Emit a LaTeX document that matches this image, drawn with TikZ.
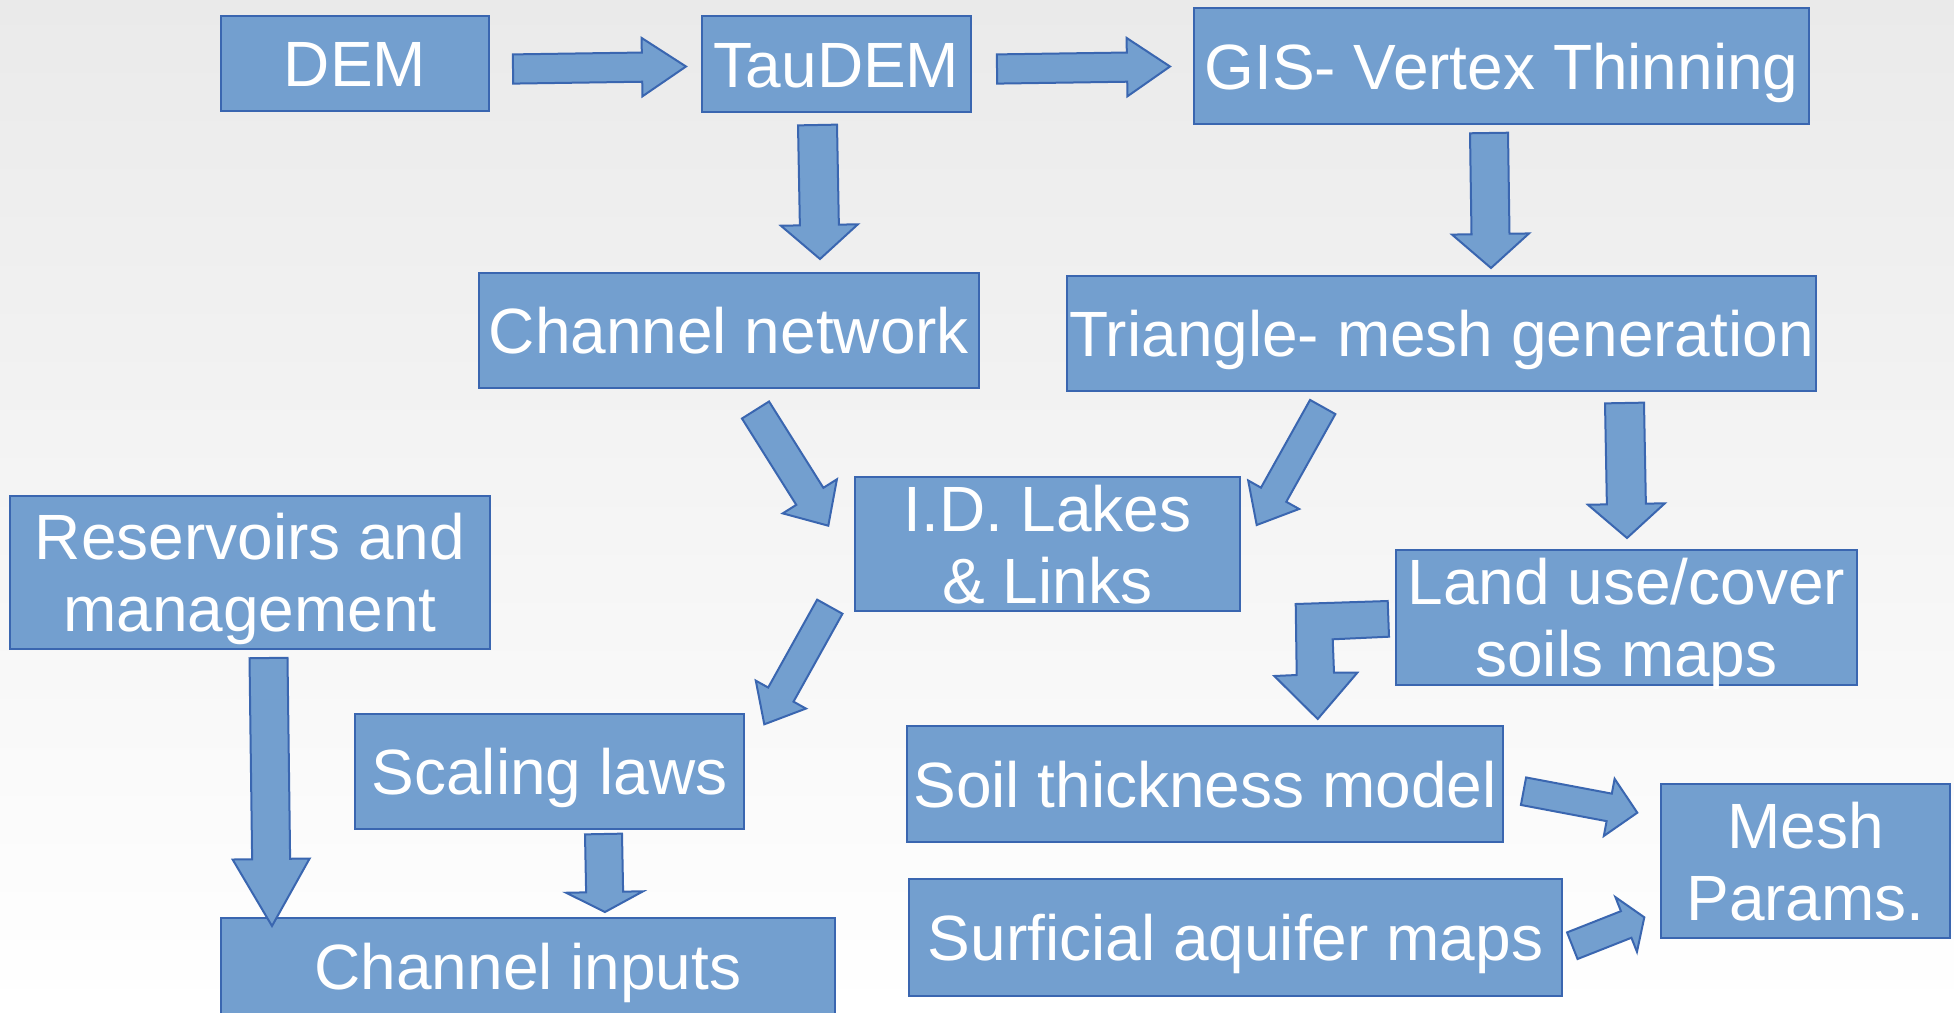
\documentclass[tikz,border=0pt]{standalone}
\usepackage{fontspec}
\setmainfont{Liberation Sans}
\usetikzlibrary{calc}
\definecolor{boxfill}{RGB}{115,159,207}
\definecolor{boxline}{RGB}{58,102,176}
\definecolor{bgtop}{RGB}{234,234,234}
\tikzset{
  box/.style={draw=boxline, fill=boxfill, line width=1pt, text=white, inner sep=0pt,
    font=\fontsize{32}{36}\selectfont, align=center},
  oneline/.style={text height=23pt, text depth=0pt},
  twoline/.style={text height=59pt, text depth=0pt},
  arr/.style={draw=boxline, fill=boxfill, line width=1pt, line join=miter}
}
\newcommand\blockarr[5]{%
  \coordinate (hb) at ($(#2)!#5!(#1)$);
  \draw[arr] ($(#1)!#3!90:(#2)$) -- ($(hb)!#3!90:(#2)$) -- ($(hb)!#4!90:(#2)$) -- (#2)
    -- ($(hb)!#4!-90:(#2)$) -- ($(hb)!#3!-90:(#2)$) -- ($(#1)!#3!-90:(#2)$) -- cycle;}
\begin{document}
\begin{tikzpicture}[x=0.5pt, y=-0.5pt]
\useasboundingbox (0,0) rectangle (1954,1012);
\clip (0,0) rectangle (1954,1012);
\shade[top color=bgtop, bottom color=white] (0,0) rectangle (1954,1012);

% boxes
\node[box, oneline, minimum width=134pt, minimum height=47.5pt] (dem) at (355,63.5) {DEM};
\node[box, oneline, minimum width=134.5pt, minimum height=48pt] (tau) at (836.5,64) {TauDEM};
\node[box, oneline, minimum width=307.5pt, minimum height=58pt] (gis) at (1501.5,66) {GIS- Vertex Thinning};
\node[box, oneline, minimum width=250pt, minimum height=57.5pt] (chn) at (729,330.5) {Channel network};
\node[box, oneline, minimum width=374.5pt, minimum height=57.5pt] (tri) at (1441.5,333.5) {Triangle- mesh generation};
\node[box, twoline, minimum width=192.5pt, minimum height=67pt] (lak) at (1047.5,544) {I.D. Lakes\\\& Links};
\node[box, twoline, minimum width=240pt, minimum height=76.5pt] (res) at (250,572.5) {Reservoirs and\\management};
\node[box, twoline, minimum width=230.5pt, minimum height=67.5pt] (lan) at (1626.5,617.5) {Land use/cover\\soils maps};
\node[box, oneline, minimum width=194.5pt, minimum height=57.5pt] (sca) at (549.5,771.5) {Scaling laws};
\node[box, oneline, minimum width=298pt, minimum height=58pt] (soi) at (1205,784) {Soil thickness model};
\node[box, twoline, minimum width=144.5pt, minimum height=77pt] (mes) at (1805.5,861) {Mesh\\Params.};
\node[box, oneline, minimum width=326.5pt, minimum height=58.5pt] (sur) at (1235.5,937.5) {Surficial aquifer maps};
\node[box, oneline, minimum width=307pt, minimum height=48pt] (cin) at (528,966) {Channel inputs};

% arrow end points
\coordinate (a1s) at (513,69);     \coordinate (a1e) at (686,66.5);
\coordinate (a2s) at (997,69);     \coordinate (a2e) at (1170,66.5);
\coordinate (a3s) at (817.5,125);  \coordinate (a3e) at (820,259);
\coordinate (a4s) at (1489,133);   \coordinate (a4e) at (1491,268);
\coordinate (a5s) at (755.5,410);  \coordinate (a5e) at (828.3,525.7);
\coordinate (a6s) at (1322.7,407); \coordinate (a6e) at (1256.7,525);
\coordinate (a7s) at (1624.5,403); \coordinate (a7e) at (1627,538);
\coordinate (a8s) at (829.8,606.7);\coordinate (a8e) at (764.3,724.3);
\coordinate (a9s) at (268.5,658);  \coordinate (a9e) at (272,926);
\coordinate (a10s) at (603.5,834); \coordinate (a10e) at (605,912);
\coordinate (a12s) at (1523.5,791.2); \coordinate (a12e) at (1637.3,812.7);
\coordinate (a13s) at (1572.3,945.7); \coordinate (a13e) at (1644.3,917.3);

\blockarr{a1s}{a1e}{7.3pt}{14.6pt}{22pt}
\blockarr{a2s}{a2e}{7.3pt}{14.6pt}{21.5pt}
\blockarr{a3s}{a3e}{9.75pt}{19.25pt}{17pt}
\blockarr{a4s}{a4e}{9.5pt}{19.25pt}{17pt}
\blockarr{a5s}{a5e}{8pt}{16pt}{17.35pt}
\blockarr{a6s}{a6e}{7.25pt}{14.6pt}{17.35pt}
\blockarr{a7s}{a7e}{9.75pt}{19.25pt}{17pt}
\blockarr{a8s}{a8e}{7.25pt}{14.35pt}{17pt}
\blockarr{a9s}{a9e}{9.5pt}{19.25pt}{33.5pt}
\blockarr{a10s}{a10e}{9.25pt}{19.25pt}{10pt}
\blockarr{a12s}{a12e}{7pt}{14.55pt}{14.3pt}
\blockarr{a13s}{a13e}{7.15pt}{14.7pt}{9.75pt}

% bent arrow: land use -> soil thickness
\coordinate (b1) at (1389,636.7);
\coordinate (b2) at (1317.7,719);
\draw[arr] (1295.7,604) -- (1387.7,601) -- (b1) -- (1332.7,639.3) -- (1334,672.7)
  -- (1357.3,672.7) -- (b2) -- (1274.3,676) -- (1296.7,675) -- cycle;
\end{tikzpicture}
\end{document}
